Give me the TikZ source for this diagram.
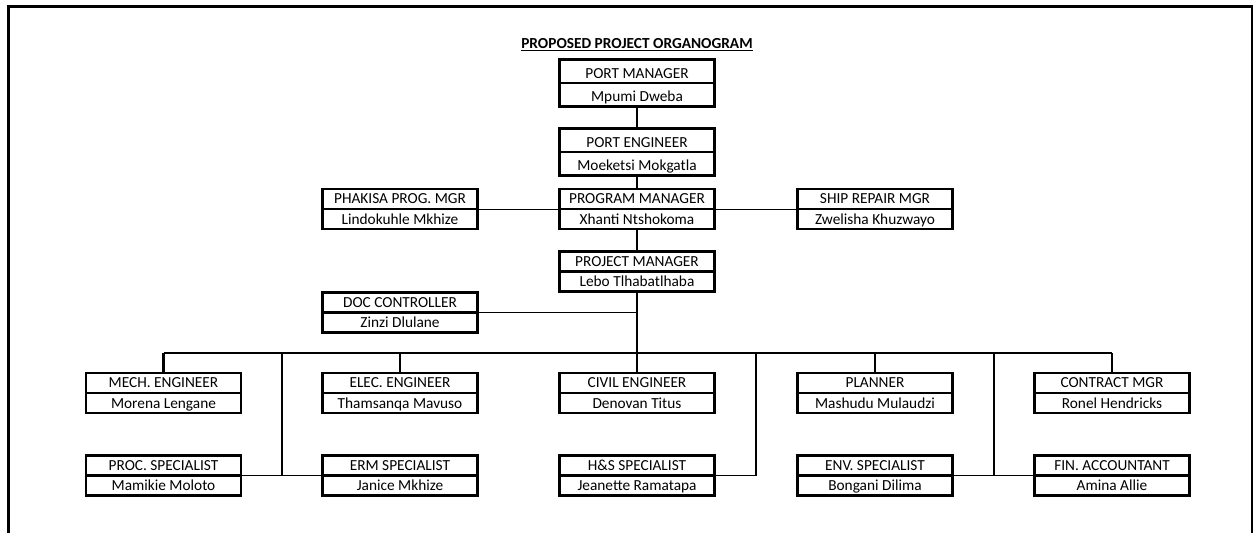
\documentclass[tikz,border=0pt]{standalone}
\usepackage{fontspec}
\setmainfont{Carlito}
\usetikzlibrary{positioning,shapes.multipart}

\begin{document}
\begin{tikzpicture}[
  x=0.75pt, y=-0.75pt, % one unit = one pixel of the sheet
  font=\fontsize{11.5}{13}\selectfont,
  role/.style ={rectangle split, rectangle split parts=2, draw, line width=0.6pt,
                fill=white, postaction={draw, line width=1.8pt},
                minimum width=116pt, inner xsep=3pt, inner ysep=0.75pt,
                font=\fontsize{11.5}{13}\selectfont
                  \setbox\strutbox\hbox{\vrule height 10.2pt depth 2.8pt width 0pt}},
  tall/.style ={font=\fontsize{11.5}{13}\selectfont
                  \setbox\strutbox\hbox{\vrule height 13pt depth 2.6pt width 0pt}},
  vline/.style={line width=1.6pt},
  hline/.style={line width=0.7pt},
  barline/.style={line width=1pt}
]
\useasboundingbox (0,0) rectangle (1256,533);

% sheet frame (open at the bottom)
\draw[line width=2pt] (8.5,533) -- (8.5,6.5) -- (1252,6.5) -- (1252,533);

\node[font=\fontsize{11.5}{13}\selectfont\bfseries] (title) at (637,45)
  {\underline{PROPOSED PROJECT ORGANOGRAM}};

% ==================================================
% TOP CHAIN
% ==================================================
\node[role, tall] (portmgr) at (637,83)    {\strut PORT MANAGER\nodepart{two}\strut Mpumi Dweba};
\node[role, tall] (porteng) at (637,152)   {\strut PORT ENGINEER\nodepart{two}\strut Moeketsi Mokgatla};
\node[role] (progmgr)    at (637,209)      {\strut PROGRAM MANAGER\nodepart{two}\strut Xhanti Ntshokoma};
\node[role] (phakisa)    at (400,209)      {\strut PHAKISA PROG. MGR\nodepart{two}\strut Lindokuhle Mkhize};
\node[role] (shiprepair) at (875,209)      {\strut SHIP REPAIR MGR\nodepart{two}\strut Zwelisha Khuzwayo};
\node[role] (projmgr)    at (637,271.5)    {\strut PROJECT MANAGER\nodepart{two}\strut Lebo Tlhabatlhaba};
\node[role] (doccon)     at (400,312.5)    {\strut DOC CONTROLLER\nodepart{two}\strut Zinzi Dlulane};

% ==================================================
% TEAM ROWS
% ==================================================
\node[role] (mecheng)  at (163.5,393)  {\strut MECH. ENGINEER\nodepart{two}\strut Morena Lengane};
\node[role] (eleceng)  at (400,393)    {\strut ELEC. ENGINEER\nodepart{two}\strut Thamsanqa Mavuso};
\node[role] (civileng) at (637,393)    {\strut CIVIL ENGINEER\nodepart{two}\strut Denovan Titus};
\node[role] (planner)  at (875,393)    {\strut PLANNER\nodepart{two}\strut Mashudu Mulaudzi};
\node[role] (contract) at (1112,393)   {\strut CONTRACT MGR\nodepart{two}\strut Ronel Hendricks};

\node[role] (procspec) at (163.5,475.5) {\strut PROC. SPECIALIST\nodepart{two}\strut Mamikie Moloto};
\node[role] (ermspec)  at (400,475.5)   {\strut ERM SPECIALIST\nodepart{two}\strut Janice Mkhize};
\node[role] (hsspec)   at (637,475.5)   {\strut H\&S SPECIALIST\nodepart{two}\strut Jeanette Ramatapa};
\node[role] (envspec)  at (875,475.5)   {\strut ENV. SPECIALIST\nodepart{two}\strut Bongani Dilima};
\node[role] (finacc)   at (1112,475.5)  {\strut FIN. ACCOUNTANT\nodepart{two}\strut Amina Allie};

% branch points
\coordinate (bar)   at (637,353);
\coordinate (drop1) at (282,353);
\coordinate (drop2) at (756,353);
\coordinate (drop3) at (994,353);

% ==================================================
% CONNECTORS
% ==================================================
\draw[vline] (portmgr) -- (porteng);
\draw[vline] (porteng) -- (progmgr);
\draw[hline] (phakisa.east) -- (progmgr.west);
\draw[hline] (progmgr.east) -- (shiprepair.west);
\draw[vline] (progmgr) -- (projmgr);
\draw[vline] (projmgr) -- (bar);
\draw[hline] (doccon.east) -- (doccon.east -| bar);

\draw[barline] (mecheng |- bar) -- (contract |- bar);
\foreach \n in {mecheng,eleceng,civileng,planner,contract}
  \draw[vline] (\n |- bar) -- (\n);

\draw[vline] (drop1) -- (drop1 |- procspec);
\draw[hline] (procspec.east) -- (ermspec.west);
\draw[vline] (drop2) -- (drop2 |- hsspec);
\draw[hline] (hsspec.east) -- (drop2 |- hsspec);
\draw[vline] (drop3) -- (drop3 |- envspec);
\draw[hline] (envspec.east) -- (finacc.west);

\end{tikzpicture}
\end{document}
